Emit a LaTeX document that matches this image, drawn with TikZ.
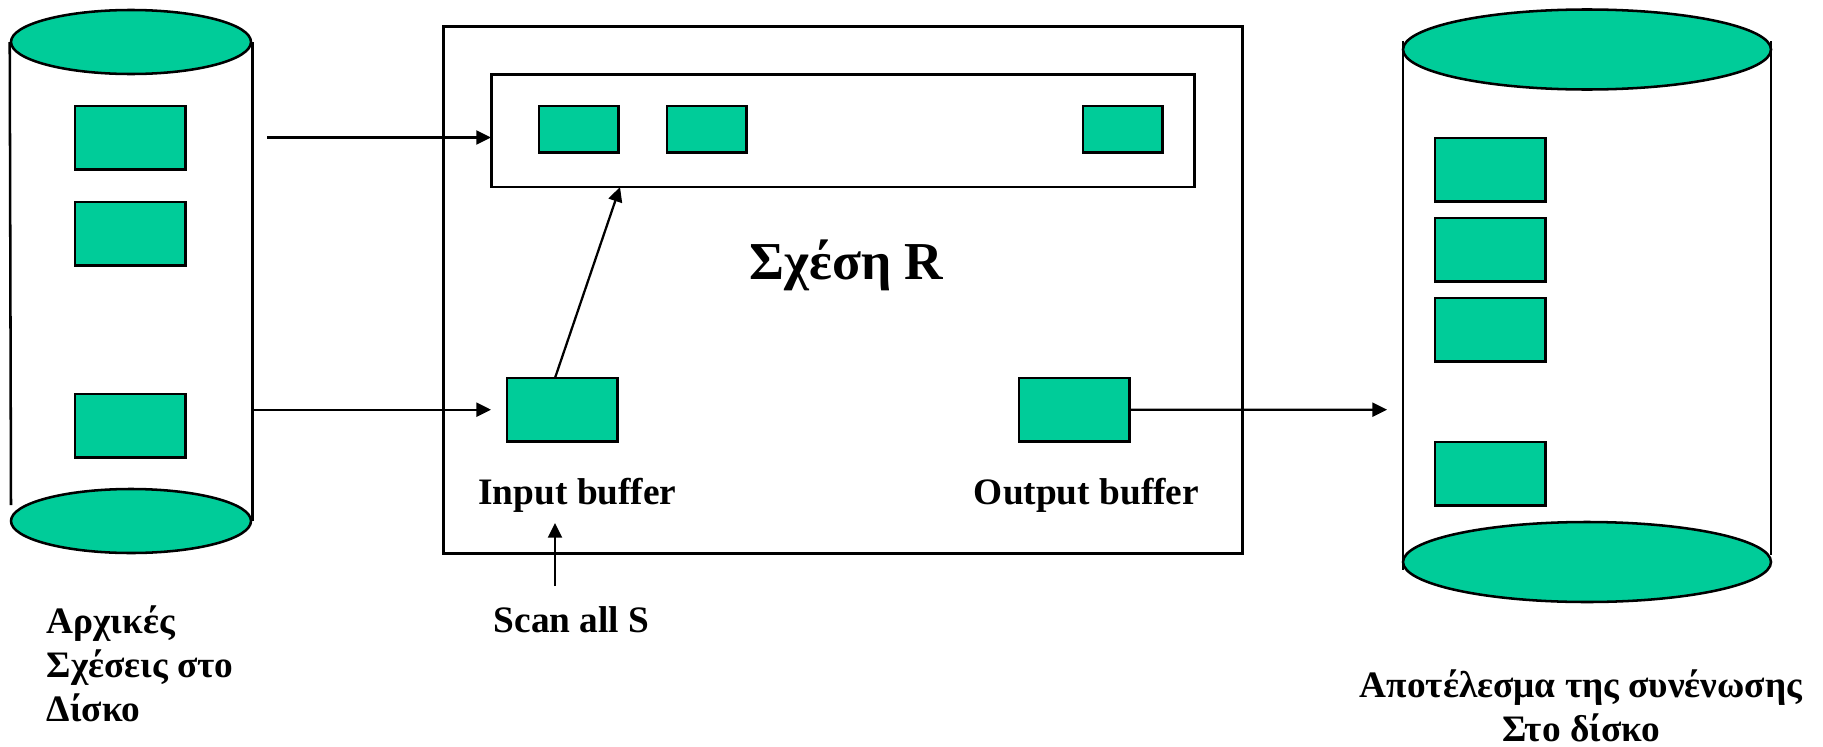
\documentclass[tikz,border=0pt]{standalone}
\usepackage{fontspec}
\setmainfont{Liberation Serif}
\usetikzlibrary{arrows.meta,shapes.geometric}
\definecolor{pagegreen}{rgb}{0,0.8,0.6}
\tikzset{
  outline/.style={draw=black,line width=1.9pt},
  page/.style={outline,fill=pagegreen,rectangle,inner sep=0pt,outer sep=0pt,anchor=north west,minimum width=83pt,minimum height=47.5pt},
  slot/.style={page,minimum width=59.5pt,minimum height=35pt},
  frame/.style={outline,rectangle,inner sep=0pt,anchor=north west},
  disc/.style={outline,fill=pagegreen,ellipse,inner sep=0pt},
  caption/.style={inner sep=0pt,font=\fontsize{28}{33}\selectfont\bfseries},
  flow/.style={line width=1.7pt,-{Triangle[length=11pt,width=10.5pt]}}
}
\begin{document}
\begin{tikzpicture}[x=0.75pt,y=0.75pt,yscale=-1,xscale=1]
\useasboundingbox (0,0) rectangle (1823,746);

%Frames
\node (memory) [frame,minimum width=599.5pt,minimum height=395.5pt] at (442,25) {};
\node (relbox) [frame,minimum width=527.5pt,minimum height=84.5pt] at (490,73) {};

%Left disk
\node (lefttop) [disc,minimum width=180pt,minimum height=48pt] at (131,42) {};
\node (leftbot) [disc,minimum width=180pt,minimum height=48pt] at (131,521) {};
\coordinate (leftend) at (11,505);
\draw [outline] (lefttop.west) -- (leftend);
\draw [outline] (lefttop.east) -- (leftbot.east);
\node (left1) [page] at (75,106) {};
\node (left2) [page] at (75,202) {};
\node (left3) [page] at (75,394) {};

%Right disk
\node (righttop) [disc,minimum width=276pt,minimum height=60pt] at (1587,49.5) {};
\node (rightbot) [disc,minimum width=276pt,minimum height=60pt] at (1587,562) {};
\coordinate (rlstart) at (1403,41);
\coordinate (rlend) at (1403,570);
\coordinate (rrstart) at (1771,41);
\coordinate (rrend) at (1771,555);
\draw [outline] (rlstart) -- (rlend);
\draw [outline] (rrstart) -- (rrend);
\node (right1) [page] at (1435,138) {};
\node (right2) [page] at (1435,218) {};
\node (right3) [page] at (1435,298) {};
\node (right4) [page] at (1435,442) {};

%Buffers
\node (slot1) [slot] at (539,106) {};
\node (slot2) [slot] at (667,106) {};
\node (slot3) [slot] at (1083,106) {};
\node (inbuf) [page] at (507,378) {};
\node (outbuf) [page] at (1019,378) {};

%Arrows
\coordinate (readstart) at (267,137.5);
\coordinate (readend) at (491,137.5);
\coordinate (leftout) at (252,409.7);
\coordinate (inend) at (491,409.7);
\coordinate (diagstart) at (555,378);
\coordinate (diagend) at (620,187);
\coordinate (scanstart) at (555,586);
\coordinate (scanend) at (555,523);
\coordinate (outend) at (1387,409.7);
\draw [flow] (readstart) -- (readend);
\draw [flow] (leftout) -- (inend);
\draw [flow] (diagstart) -- (diagend);
\draw [flow] (scanstart) -- (scanend);
\draw [flow] (outbuf.east) -- (outend);

% Text Node
\node (title) [inner sep=0pt,font=\fontsize{40}{46}\selectfont\bfseries] at (846.5,265) {Σχέση R};
\node (inlabel) [caption] at (577.5,495) {Input buffer};
\node (outlabel) [caption] at (1086.5,495) {Output buffer};
\node (scanlabel) [caption] at (571.5,620) {Scan all S};
\node (sourcelabel) [caption,align=left,anchor=west] at (46.5,664) {Αρχικές\\Σχέσεις στο\\Δίσκο};
\node (resultlabel) [caption,align=center] at (1581,705.5) {Αποτέλεσμα της συνένωσης\\Στο δίσκο};
\end{tikzpicture}
\end{document}
